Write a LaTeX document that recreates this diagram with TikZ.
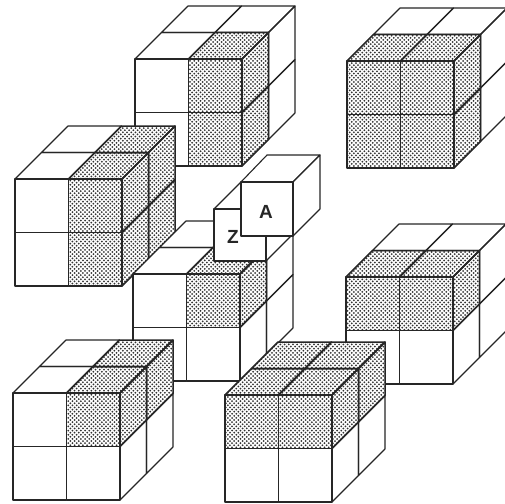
\documentclass[tikz,border=0pt]{standalone}
\usepackage{fontspec}
\setmainfont{Liberation Sans}
\usetikzlibrary{patterns}
\pgfdeclarepatternformonly{halftone}{\pgfqpoint{-2pt}{-2pt}}{\pgfqpoint{6pt}{6pt}}{\pgfqpoint{4.2pt}{4.2pt}}{%
  \pgfpathcircle{\pgfqpoint{1.05pt}{1.05pt}}{1pt}\pgfusepath{fill}%
  \pgfpathcircle{\pgfqpoint{3.15pt}{3.15pt}}{1pt}\pgfusepath{fill}%
}
\tikzset{
  W fill/.style={fill=white},
  D fill/.style={fill=white,postaction={pattern=halftone,pattern color=black!80}},
  W line/.style={draw=black!85,line width=1.1pt,line join=round},
  D line/.style={draw=black!85,line width=1.5pt,line join=round},
  white cell/.style={W fill,W line},
  letter/.style={font=\bfseries\fontsize{19}{19}\selectfont,text=black!85,inner sep=0pt},
}
% cell macros: use inside a shifted scope, coordinates in px from front top-left corner
\def\ua{53.5}\def\ud{26.5}
\newcommand{\frontcell}[3]{\path[#3] ({#1*\ua},{#2*\ua}) -- ({(#1+1)*\ua},{#2*\ua}) -- ({(#1+1)*\ua},{(#2+1)*\ua}) -- ({#1*\ua},{(#2+1)*\ua}) -- cycle;}
\newcommand{\topcell}[3]{\path[#3] ({#1*\ua+#2*\ud},{-#2*\ud}) -- ({(#1+1)*\ua+#2*\ud},{-#2*\ud}) -- ({(#1+1)*\ua+(#2+1)*\ud},{-(#2+1)*\ud}) -- ({#1*\ua+(#2+1)*\ud},{-(#2+1)*\ud}) -- cycle;}
\newcommand{\rightcell}[3]{\path[#3] ({2*\ua+#1*\ud},{#2*\ua-#1*\ud}) -- ({2*\ua+(#1+1)*\ud},{#2*\ua-(#1+1)*\ud}) -- ({2*\ua+(#1+1)*\ud},{(#2+1)*\ua-(#1+1)*\ud}) -- ({2*\ua+#1*\ud},{(#2+1)*\ua-#1*\ud}) -- cycle;}
% #3 front cells col/row, #4 right cells depth/row, #5 top cells col/depth; all fills first, then all outlines
\newcommand{\cubeat}[5]{%
\begin{scope}[shift={(#1,#2)}]
\foreach \pass in {fill,line}{%
\foreach \st/\i/\k in {#5}{\topcell{\i}{\k}{\st\space\pass}}
\foreach \st/\i/\k in {#3}{\frontcell{\i}{\k}{\st\space\pass}}
\foreach \st/\i/\k in {#4}{\rightcell{\i}{\k}{\st\space\pass}}
}
\end{scope}}
\begin{document}
\begin{tikzpicture}[x=1pt,y=-1pt]
\useasboundingbox (0,0) rectangle (505,503);
\clip (0,0) rectangle (505,503);
% top-middle cube
\cubeat{135}{59}{W/0/0,W/0/1,D/1/0,D/1/1}{W/1/0,W/1/1,D/0/0,D/0/1}{W/0/0,W/0/1,W/1/1,D/1/0}
% top-right cube
\cubeat{347}{61}{D/0/0,D/1/0,D/0/1,D/1/1}{W/1/0,W/1/1,D/0/0,D/0/1}{W/0/1,W/1/1,D/0/0,D/1/0}
% left cube
\cubeat{15}{179}{W/0/0,W/0/1,D/1/0,D/1/1}{D/0/0,D/0/1,D/1/0,D/1/1}{W/0/0,W/0/1,D/1/0,D/1/1}
% right-middle cube
\cubeat{346}{277}{D/0/0,D/1/0,W/0/1,W/1/1}{W/1/0,W/1/1,W/0/1,D/0/0}{W/0/1,W/1/1,D/0/0,D/1/0}
% central stack
\cubeat{133}{274}{W/0/0,D/1/0,W/0/1,W/1/1}{W/1/0,W/1/1,W/0/1,D/0/0}{W/0/1,W/0/0,W/1/1,D/1/0}
% Z and A blocks
\begin{scope}[shift={(214,209)}]
\draw[white cell] (0,0) -- (26.5,-26.5) -- (79,-26.5) -- (52,0) -- cycle;
\draw[white cell] (52,52) -- (79,25) -- (79,-26.5) -- (52,0) -- cycle;
\draw[white cell] (0,0) rectangle (52,52);
\node[letter] (zlabel) at (19,28) {Z};
\end{scope}
\begin{scope}[shift={(241,182)}]
\draw[white cell] (0,0) -- (26,-27) -- (79,-27) -- (52,0) -- cycle;
\draw[white cell] (52,54) -- (79,27) -- (79,-27) -- (52,0) -- cycle;
\draw[white cell] (0,0) rectangle (52,54);
\node[letter] (alabel) at (25,30) {A};
\end{scope}
% bottom-left cube
\cubeat{13}{393}{W/0/0,D/1/0,W/0/1,W/1/1}{W/0/1,W/1/1,D/0/0,D/1/0}{W/0/0,W/0/1,D/1/0,D/1/1}
% bottom-middle cube
\cubeat{225}{395}{D/0/0,D/1/0,W/0/1,W/1/1}{W/0/1,W/1/1,D/0/0,D/1/0}{D/0/1,D/1/1,D/0/0,D/1/0}
\end{tikzpicture}
\end{document}
